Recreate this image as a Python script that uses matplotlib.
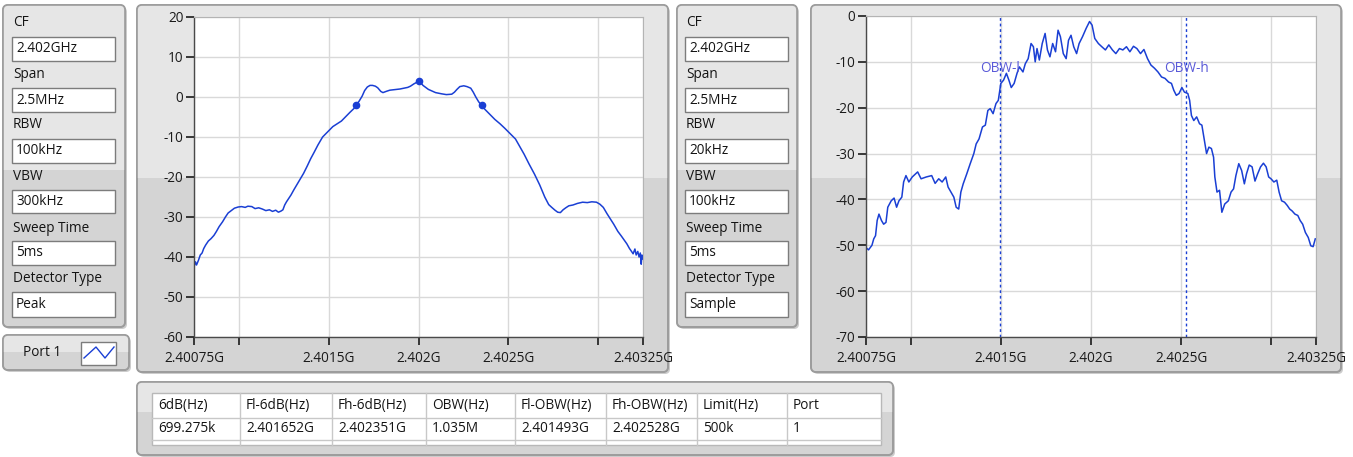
import matplotlib
matplotlib.use("Agg")
import matplotlib.pyplot as plt
from matplotlib.patches import FancyBboxPatch, Rectangle
import numpy as np

plt.rcParams['font.family'] = ['Open Sans', 'DejaVu Sans']

# ---------------- data ----------------
f_start = 2.40075  # GHz
xtick_vals = [2.40075, 2.401, 2.4015, 2.402, 2.4025, 2.403, 2.40325]
xtick_labels = ["2.40075G", "", "2.4015G", "2.402G", "2.4025G", "", "2.40325G"]

setting_labels = ["CF", "Span", "RBW", "VBW", "Sweep Time", "Detector Type"]
settings_1 = ["2.402GHz", "2.5MHz", "100kHz", "300kHz", "5ms", "Peak"]
settings_2 = ["2.402GHz", "2.5MHz", "20kHz", "100kHz", "5ms", "Sample"]

# trace 1 (peak detector), offsets in kHz from 2.40075 GHz, level dB
offsets1 = [0, 8, 14, 25, 35, 45, 54, 65, 80, 95, 111, 125, 140, 159, 175, 190, 207, 225, 246, 265,
            285, 300, 322, 340, 360, 380, 400, 420, 437, 455, 470, 485, 495, 505, 515, 524, 540, 556,
            572, 590, 610, 630, 650, 668, 690, 716, 740, 760, 773, 800, 821, 845, 869, 890, 902, 920,
            936, 950, 965, 980, 994, 1010, 1023, 1040, 1052, 1070, 1090, 1110, 1130, 1147, 1170, 1190,
            1205, 1225, 1250, 1262, 1275, 1290, 1305, 1320, 1345, 1378, 1405, 1435, 1450, 1464, 1480,
            1502, 1520, 1541, 1555, 1569, 1585, 1601, 1620, 1646, 1675, 1704, 1730, 1752, 1770, 1790,
            1810, 1838, 1865, 1896, 1925, 1953, 1975, 1992, 2010, 2025, 2040, 2055, 2070, 2087, 2110,
            2135, 2164, 2190, 2215, 2241, 2260, 2279, 2300, 2320, 2337, 2360, 2380, 2394, 2410, 2425,
            2433, 2445, 2455, 2462, 2471, 2478, 2485, 2490, 2494, 2500]
levels1 = [-42.5, -41.2, -42.0, -40.8, -39.5, -39.0, -37.9, -37.0, -36.0, -35.4, -34.6, -33.6, -32.4,
           -31.2, -30.0, -29.0, -28.4, -27.8, -27.5, -27.4, -27.6, -27.3, -27.4, -27.9, -27.7, -28.0,
           -28.4, -28.2, -28.6, -28.3, -28.8, -28.5, -28.2, -27.0, -26.2, -25.6, -24.5, -23.2, -22.0,
           -20.6, -19.1, -17.3, -15.4, -13.9, -12.0, -10.0, -8.9, -8.0, -7.4, -6.6, -6.0, -4.9, -3.8,
           -2.9, -2.1, -1.0, 0.2, 1.6, 2.5, 2.9, 2.9, 2.7, 2.3, 1.4, 1.1, 1.4, 1.7, 1.8, 1.9, 2.0, 2.2,
           2.4, 2.7, 3.3, 3.9, 3.6, 2.9, 2.4, 1.9, 1.6, 1.1, 0.8, 0.6, 0.7, 1.2, 1.9, 2.6, 2.8, 2.6,
           2.2, 1.2, 0.0, -1.2, -2.1, -3.1, -4.3, -5.6, -6.7, -7.8, -8.8, -9.6, -10.5, -12.1, -14.3,
           -16.7, -19.3, -22.0, -25.0, -26.9, -27.6, -28.3, -28.8, -28.9, -28.2, -27.7, -27.2, -27.0,
           -26.6, -26.3, -26.4, -26.2, -26.3, -26.8, -27.6, -29.2, -30.6, -31.8, -33.6, -34.8, -35.7,
           -36.7, -37.9, -38.4, -39.2, -38.0, -39.5, -38.6, -40.0, -39.0, -41.8, -39.5, -40.5]
marker_freqs = [2.401652, 2.402, 2.402351]
marker_levels = [-2.1, 3.9, -2.1]

# trace 2 (sample detector)
offsets2 = [0, 14, 33, 43, 53, 62, 72, 86, 98, 111, 121, 140, 156, 170, 183, 199, 209, 222, 238, 257,
            287, 306, 335, 365, 384, 404, 423, 443, 456, 472, 488, 501, 515, 527, 540, 560, 579, 599,
            612, 628, 647, 663, 677, 690, 706, 722, 735, 749, 764, 780, 794, 807, 823, 839, 852, 872,
            885, 901, 917, 930, 940, 950, 963, 979, 995, 1008, 1022, 1037, 1053, 1067, 1080, 1096,
            1112, 1125, 1139, 1154, 1170, 1184, 1203, 1223, 1242, 1256, 1271, 1291, 1310, 1330, 1349,
            1369, 1388, 1408, 1427, 1447, 1466, 1486, 1505, 1525, 1544, 1564, 1583, 1603, 1622, 1642,
            1661, 1681, 1697, 1710, 1724, 1739, 1755, 1769, 1788, 1798, 1808, 1821, 1837, 1853, 1866,
            1880, 1892, 1905, 1919, 1931, 1938, 1950, 1964, 1977, 1993, 2013, 2028, 2042, 2055, 2071,
            2087, 2102, 2114, 2129, 2145, 2161, 2176, 2192, 2208, 2223, 2237, 2250, 2266, 2282, 2295,
            2309, 2325, 2340, 2354, 2367, 2383, 2399, 2412, 2426, 2441, 2457, 2471, 2484, 2496]
levels2 = [-50.5, -51, -50, -48.6, -47.9, -44.6, -43.2, -44.6, -45.4, -45, -41.7, -40.3, -39.7, -41.7,
           -40.3, -39.5, -36.2, -34.8, -36.2, -35.1, -34, -35.5, -35.1, -34.8, -36.5, -35.5, -36.2,
           -35.1, -37.3, -38.4, -39.5, -41.7, -42.1, -38.4, -36.6, -34.4, -32.2, -30, -27.9, -26.8,
           -24.2, -23.8, -20.6, -20.2, -21.3, -19.1, -18.4, -14.7, -14, -12.5, -14, -15.6, -14.7,
           -12.5, -11.1, -12.2, -10.4, -9.3, -6, -6.7, -10, -7.1, -9.6, -6, -3.8, -7.4, -8.9, -6,
           -7.8, -3.1, -4.5, -8.2, -9.3, -5.3, -4.2, -6.7, -8.2, -6, -4.5, -2.7, -1.2, -2, -4.9, -6,
           -6.7, -7.4, -6.3, -7.4, -8.2, -7.1, -7.4, -6.7, -7.8, -6.6, -7.1, -8.2, -7.3, -9.3, -10.7,
           -11.4, -12.2, -13.3, -13.6, -14.4, -14.7, -16.2, -17.3, -16.9, -15.6, -16.6, -16.9, -18.4,
           -21.7, -22.8, -22, -23.5, -23.8, -27.1, -30, -28.6, -28.9, -30.8, -35.1, -38.4, -38, -42.8,
           -41, -40.3, -38.4, -37.7, -34.8, -32.2, -33.7, -36.6, -34.4, -32.5, -32.9, -36, -34.4,
           -32.9, -32.1, -32.9, -35.1, -35.5, -36.2, -35.8, -38.4, -40.3, -40.6, -41.3, -42.1, -42.5,
           -43.2, -43.5, -44.6, -45.4, -47.2, -48.3, -50.1, -50.3, -48.6]
obw_freqs = [2.401493, 2.402528]
obw_labels = ["OBW-l", "OBW-h"]
obw_label_level = -11.5

table_headers = ["6dB(Hz)", "Fl-6dB(Hz)", "Fh-6dB(Hz)", "OBW(Hz)", "Fl-OBW(Hz)", "Fh-OBW(Hz)",
                 "Limit(Hz)", "Port"]
table_values = ["699.275k", "2.401652G", "2.402351G", "1.035M", "2.401493G", "2.402528G", "500k", "1"]
port_label = "Port 1"

# ---------------- styling ----------------
W, H = 1353, 457
LIGHT = "#e6e6e6"
DARK = "#d4d4d4"
EDGE = "#9c9c9c"
TRACE = "#1a3fd4"
TXT = "#141414"
FS = 9.8

fig = plt.figure(figsize=(W / 100, H / 100), dpi=100)
fig.patch.set_facecolor("white")
bg = fig.add_axes([0, 0, 1, 1], zorder=0)
bg.set_xlim(0, W)
bg.set_ylim(H, 0)
bg.axis("off")


def panel(x1, y1, x2, y2, split=None, r=5):
    sh = FancyBboxPatch((x1 + 2, y1 + 2), x2 - x1, y2 - y1,
                        boxstyle=f"round,pad=0,rounding_size={r}",
                        fc="#cccccc", ec="none", zorder=1)
    bg.add_patch(sh)
    p = FancyBboxPatch((x1, y1), x2 - x1, y2 - y1,
                       boxstyle=f"round,pad=0,rounding_size={r}",
                       fc=DARK, ec=EDGE, lw=1.2, zorder=2)
    bg.add_patch(p)
    if split is not None:
        top = Rectangle((x1, y1), x2 - x1, split - y1, fc=LIGHT, ec="none", zorder=2.1)
        bg.add_patch(top)
        top.set_clip_path(p)
        edge = FancyBboxPatch((x1, y1), x2 - x1, y2 - y1,
                              boxstyle=f"round,pad=0,rounding_size={r}",
                              fc="none", ec=EDGE, lw=1.2, zorder=2.2)
        bg.add_patch(edge)


def px_axes(x1, y1, x2, y2):
    return fig.add_axes([x1 / W, 1 - y2 / H, (x2 - x1) / W, (y2 - y1) / H], zorder=3)


# settings panels
label_y = [22, 75, 125, 176, 228, 279]
box_y = [(37, 61), (88, 112), (139, 163), (190, 213), (241, 265), (292, 317)]


def settings_panel(x1, x2, bx1, bx2, values):
    panel(x1, 5, x2, 327, split=170)
    for lab, ly, (b1, b2), val in zip(setting_labels, label_y, box_y, values):
        bg.text(bx1 + 1, ly, lab, fontsize=FS, color=TXT, va="center", ha="left", zorder=5)
        bg.add_patch(Rectangle((bx1, b1), bx2 - bx1, b2 - b1, fc="white", ec="#7c7c7c",
                               lw=1.0, zorder=4))
        bg.text(bx1 + 4, (b1 + b2) / 2, val, fontsize=FS, color=TXT, va="center",
                ha="left", zorder=5)


settings_panel(3, 125, 12, 115, settings_1)
settings_panel(677, 797, 685, 788, settings_2)

# port box
panel(3, 335, 129, 370, split=352)
bg.text(23, 353, port_label, fontsize=FS, color=TXT, va="center", ha="left", zorder=5)
bg.add_patch(Rectangle((81, 342), 35, 23, fc="white", ec="#7c7c7c", lw=1.0, zorder=4))
bg.plot([84, 96, 105, 114], [358, 347, 358, 347], color=TRACE, lw=1.0, zorder=5)

# chart panels
panel(137, 5, 668, 372, split=178)
panel(811, 5, 1341, 372, split=178)


def style_chart(ax, ylim, yticks):
    ax.set_facecolor("white")
    ax.set_xlim(xtick_vals[0], xtick_vals[-1])
    ax.set_ylim(*ylim)
    ax.set_yticks(yticks)
    ax.set_yticklabels([str(v) for v in yticks])
    ax.set_xticks(xtick_vals)
    ax.set_xticklabels(xtick_labels)
    ax.tick_params(axis="both", labelsize=FS, colors="#1a1a1a", length=6, width=1.2,
                   direction="out", pad=1.5)
    ax.tick_params(axis="x", pad=4)
    ax.grid(True, color="#d9d9d9", lw=1.0)
    ax.set_axisbelow(True)
    for s in ["top", "right"]:
        ax.spines[s].set_color("#b4b4b4")
        ax.spines[s].set_linewidth(0.8)
    for s in ["left", "bottom"]:
        ax.spines[s].set_color("#4a4a4a")
        ax.spines[s].set_linewidth(1.0)


ax1 = px_axes(194, 17, 643, 337)
style_chart(ax1, (-60, 20), list(range(-60, 21, 10)))
f1 = [f_start + o * 1e-6 for o in offsets1]
ax1.plot(f1, levels1, color=TRACE, lw=1.1)
ax1.plot(marker_freqs, marker_levels, "o", color=TRACE, ms=4.5)

ax2 = px_axes(866, 16, 1316, 337)
style_chart(ax2, (-70, 0), list(range(-70, 1, 10)))
f2 = [f_start + o * 1e-6 for o in offsets2]
ax2.plot(f2, levels2, color=TRACE, lw=1.1)
for fq, lab in zip(obw_freqs, obw_labels):
    ax2.axvline(fq, color=TRACE, lw=1.0, ls=(0, (2, 2)))
    ax2.text(fq, obw_label_level, lab, fontsize=FS, color="#5a5ad8", ha="center", va="center")

# table
panel(137, 382, 893, 455, split=412)
col_x = [152, 240, 332, 426, 515, 606, 697, 787, 881]
bg.add_patch(Rectangle((152, 393), 881 - 152, 445 - 393, fc="white", ec="#b8b8b8", lw=1.0, zorder=4))
for yy in [418, 440]:
    bg.plot([152, 881], [yy, yy], color="#c8c8c8", lw=1.0, zorder=4.5)
for xx in col_x[1:-1]:
    bg.plot([xx, xx], [393, 445], color="#c8c8c8", lw=1.0, zorder=4.5)
for i, (hd, val) in enumerate(zip(table_headers, table_values)):
    bg.text(col_x[i] + 6, 405.5, hd, fontsize=FS, color=TXT, va="center", ha="left", zorder=5)
    bg.text(col_x[i] + 6, 429, val, fontsize=FS, color=TXT, va="center", ha="left", zorder=5)

fig.savefig("out.png", dpi=100, facecolor="white")
